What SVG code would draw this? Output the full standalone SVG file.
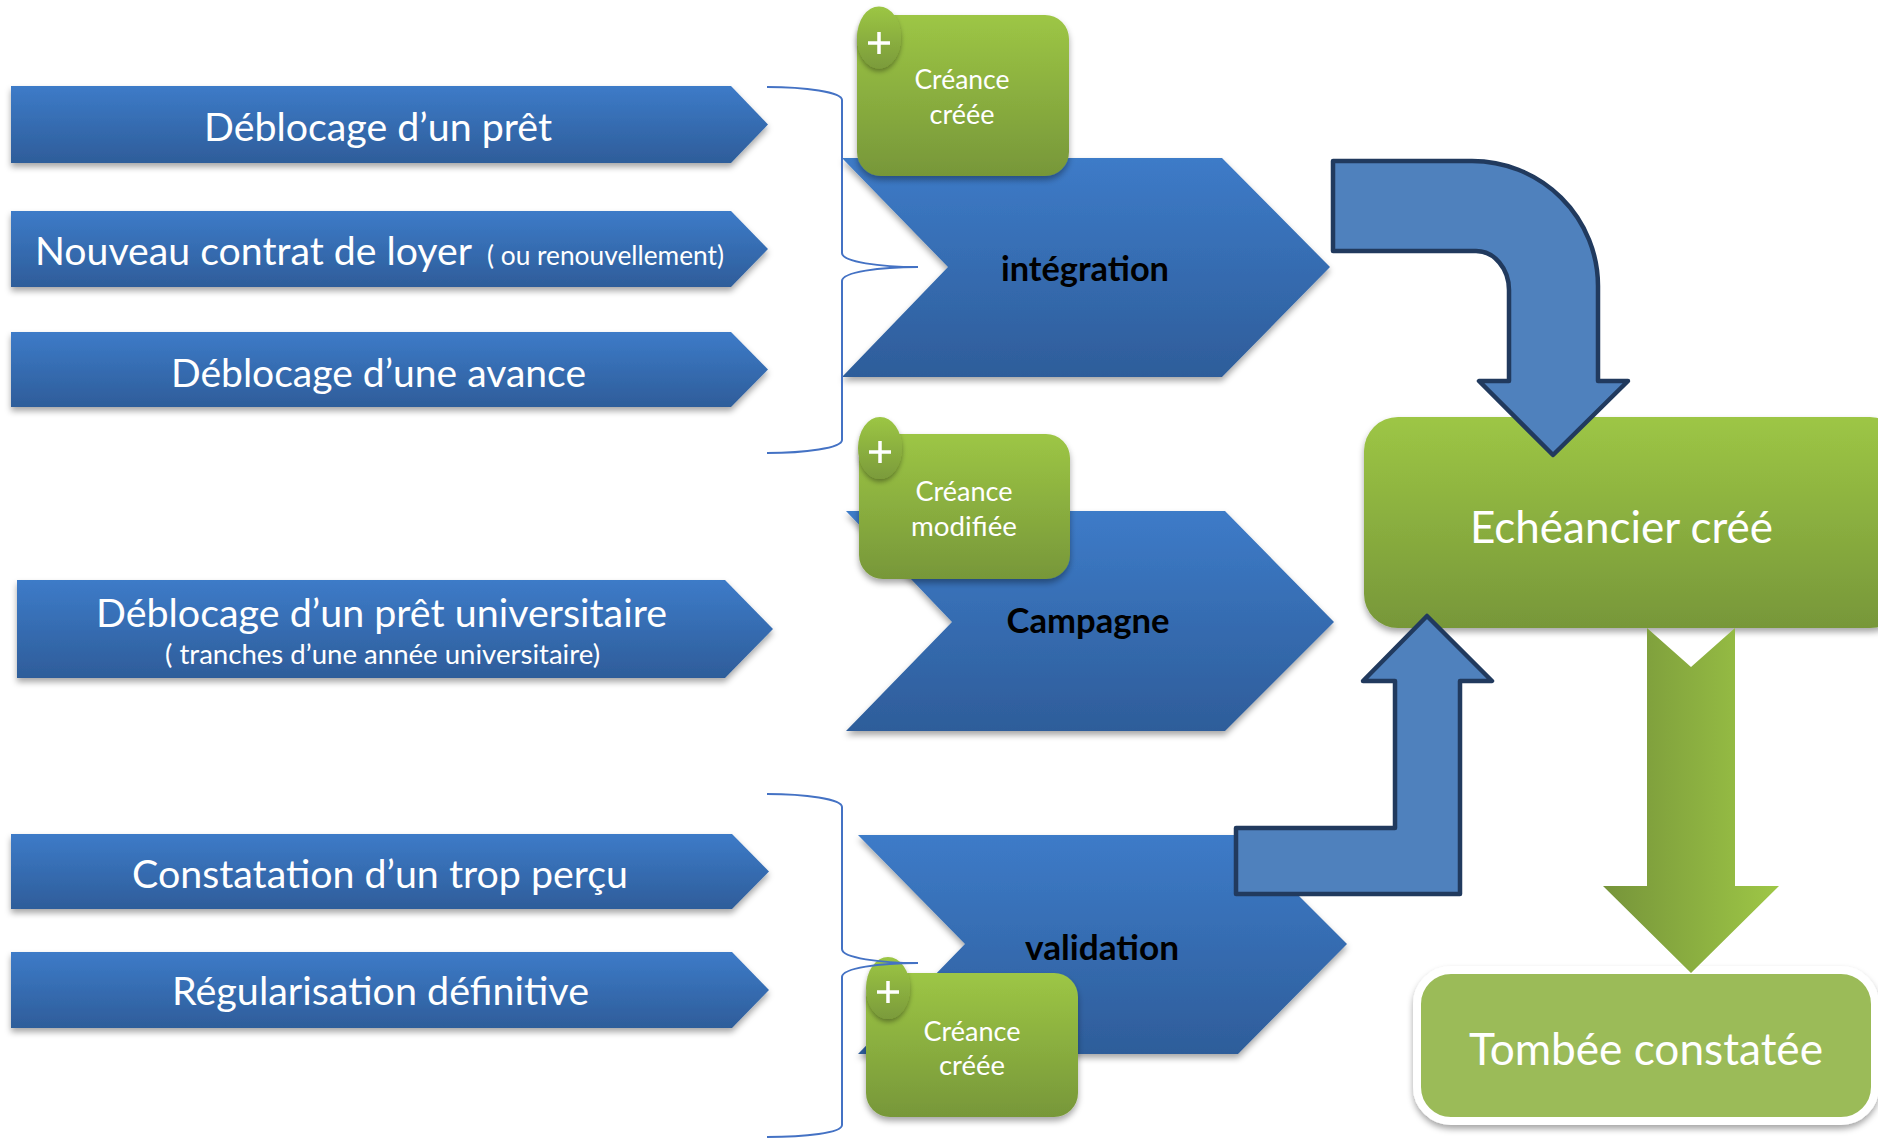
<svg xmlns="http://www.w3.org/2000/svg" width="1878" height="1140" viewBox="0 0 1878 1140">
<defs>
<linearGradient id="gBlue" x1="0" y1="0" x2="0" y2="1">
<stop offset="0" stop-color="#3d7bc8"/>
<stop offset="1" stop-color="#2e5d9a"/>
</linearGradient>
<linearGradient id="gGreen" x1="0" y1="0" x2="0" y2="1">
<stop offset="0" stop-color="#9dc645"/>
<stop offset="1" stop-color="#779739"/>
</linearGradient>
<linearGradient id="gPlus" x1="0" y1="0" x2="0" y2="1">
<stop offset="0" stop-color="#9cc644"/>
<stop offset="1" stop-color="#7b9b3b"/>
</linearGradient>
<linearGradient id="gDown" gradientUnits="userSpaceOnUse" x1="1603" y1="0" x2="1779" y2="0">
<stop offset="0" stop-color="#76943a"/>
<stop offset="1" stop-color="#9ec746"/>
</linearGradient>
<filter id="sh" x="-10%" y="-10%" width="120%" height="140%">
<feDropShadow dx="0" dy="4" stdDeviation="3" flood-color="#000" flood-opacity="0.35"/>
</filter>
<filter id="shs" x="-30%" y="-20%" width="160%" height="150%">
<feDropShadow dx="0" dy="3" stdDeviation="2.5" flood-color="#000" flood-opacity="0.35"/>
</filter>
</defs>
<style>
.arr { fill: url(#gBlue); filter: url(#sh); }
.box { fill: url(#gGreen); filter: url(#sh); }
.pl { fill: url(#gPlus); filter: url(#shs); }
.plus { stroke: #ffffff; stroke-width: 3.5; fill: none; }
.t { font-family: Lato, "Liberation Sans", sans-serif; fill: #ffffff; text-anchor: middle; }
.ts { font-family: Lato, "Liberation Sans", sans-serif; fill: #ffffff; }
.b { font-family: Lato, "Liberation Sans", sans-serif; font-weight: bold; fill: #000000; text-anchor: middle; font-size: 34px; }
.brace { fill: none; stroke: #4472c4; stroke-width: 2; }
.bent { fill: #4f81bd; stroke: #213a5e; stroke-width: 4.5; stroke-linejoin: round; }
</style>
<rect width="1878" height="1140" fill="#ffffff"/>

<g id="src-deblocage-pret">
<polygon class="arr" points="11,86 731,86 768,124.5 731,163 11,163"/>
<text class="t" x="378" y="141" font-size="38" textLength="348" lengthAdjust="spacingAndGlyphs">Déblocage d’un prêt</text>
</g>
<g id="src-nouveau-contrat">
<polygon class="arr" points="11,211 731,211 768,249 731,287 11,287"/>
<text class="ts" x="35" y="265" font-size="38" textLength="437" lengthAdjust="spacingAndGlyphs">Nouveau contrat de loyer</text>
<text class="ts" x="487" y="265" font-size="26" textLength="237" lengthAdjust="spacingAndGlyphs">( ou renouvellement)</text>
</g>
<g id="src-deblocage-avance">
<polygon class="arr" points="11,332 731,332 768,369.5 731,407 11,407"/>
<text class="t" x="378.5" y="387" font-size="38" textLength="415" lengthAdjust="spacingAndGlyphs">Déblocage d’une avance</text>
</g>
<g id="src-pret-universitaire">
<polygon class="arr" points="17,580 725,580 773,629 725,678 17,678"/>
<text class="t" x="381.5" y="627" font-size="38" textLength="571" lengthAdjust="spacingAndGlyphs">Déblocage d’un prêt universitaire</text>
<text class="t" x="382.5" y="664" font-size="27" textLength="435" lengthAdjust="spacingAndGlyphs">( tranches d’une année universitaire)</text>
</g>
<g id="src-trop-percu">
<polygon class="arr" points="11,834 732,834 769,871.5 732,909 11,909"/>
<text class="t" x="380" y="888" font-size="38" textLength="496" lengthAdjust="spacingAndGlyphs">Constatation d’un trop perçu</text>
</g>
<g id="src-regularisation">
<polygon class="arr" points="11,952 732,952 769,990 732,1028 11,1028"/>
<text class="t" x="380.5" y="1005" font-size="38" textLength="417" lengthAdjust="spacingAndGlyphs">Régularisation définitive</text>
</g>

<g id="step-integration">
<polygon class="arr" points="842,158 1222,158 1330,267 1222,377 842,377 948,267"/>
<text class="b" x="1085" y="281" textLength="168" lengthAdjust="spacingAndGlyphs">intégration</text>
</g>
<g id="step-campagne">
<polygon class="arr" points="846,511 1225,511 1334,622 1225,731 846,731 952,622"/>
<text class="b" x="1088" y="633" textLength="163" lengthAdjust="spacingAndGlyphs">Campagne</text>
</g>
<g id="step-validation">
<polygon class="arr" points="858,835 1238,835 1347,944 1238,1054 858,1054 965,944"/>
<text class="b" x="1102" y="960" textLength="154" lengthAdjust="spacingAndGlyphs">validation</text>
</g>

<g id="creance-creee-1">
<rect class="box" x="857" y="15" width="212" height="161" rx="24"/>
<ellipse class="pl" cx="879" cy="37.5" rx="22" ry="31"/>
<path class="plus" d="M868,43 H890 M879,32 V54"/>
<text class="t" x="962" y="89" font-size="26" textLength="95" lengthAdjust="spacingAndGlyphs">Créance</text>
<text class="t" x="962" y="124" font-size="26" textLength="65" lengthAdjust="spacingAndGlyphs">créée</text>
</g>
<g id="creance-modifiee">
<rect class="box" x="859" y="434" width="211" height="145" rx="24"/>
<ellipse class="pl" cx="880" cy="448" rx="22" ry="31"/>
<path class="plus" d="M869,452 H891 M880,441 V463"/>
<text class="t" x="964" y="501" font-size="26" textLength="97" lengthAdjust="spacingAndGlyphs">Créance</text>
<text class="t" x="964" y="536" font-size="26" textLength="106" lengthAdjust="spacingAndGlyphs">modifiée</text>
</g>
<g id="creance-creee-2">
<rect class="box" x="866" y="973" width="212" height="144" rx="24"/>
<ellipse class="pl" cx="888" cy="988" rx="22" ry="31"/>
<path class="plus" d="M877,992 H899 M888,981 V1003"/>
<text class="t" x="972" y="1041" font-size="26" textLength="97" lengthAdjust="spacingAndGlyphs">Créance</text>
<text class="t" x="972" y="1075" font-size="26" textLength="66" lengthAdjust="spacingAndGlyphs">créée</text>
</g>

<g id="echeancier-cree">
<rect class="box" x="1364" y="417" width="540" height="211" rx="34"/>
<text class="t" x="1621.5" y="543" font-size="45" textLength="303" lengthAdjust="spacingAndGlyphs">Echéancier créé</text>
</g>
<g id="tombee-constatee">
<rect x="1417" y="970" width="458" height="151" rx="34" fill="#9bbb59" stroke="#ffffff" stroke-width="8" filter="url(#sh)"/>
<text class="t" x="1646" y="1065" font-size="45" textLength="354" lengthAdjust="spacingAndGlyphs">Tombée constatée</text>
</g>

<g id="connectors">
<path class="brace" d="M767,87 C805,87 842,92 842,100 L842,253 C842,262 880,267 918,267 C880,267 842,272 842,281 L842,440 C842,448 805,453 767,453"/>
<path class="brace" d="M767,794 C805,794 842,799 842,807 L842,949 C842,958 880,963 918,963 C880,963 842,968 842,977 L842,1125 C842,1133 805,1137 767,1137"/>
<path class="bent" d="M1333,161 L1472,161 A126,125 0 0 1 1598,286 L1598,381 L1628,381 L1553,455 L1479,381 L1509,381 L1509,290 A33,39 0 0 0 1476,251 L1333,251 Z"/>
<path class="bent" d="M1236,828 L1395,828 L1395,681 L1363,681 L1427,616 L1492,681 L1460,681 L1460,894 L1236,894 Z"/>
<path d="M1647,628 L1691,667 L1735,628 L1735,886 L1779,886 L1691,973 L1603,886 L1647,886 Z" fill="url(#gDown)"/>
</g>
</svg>
